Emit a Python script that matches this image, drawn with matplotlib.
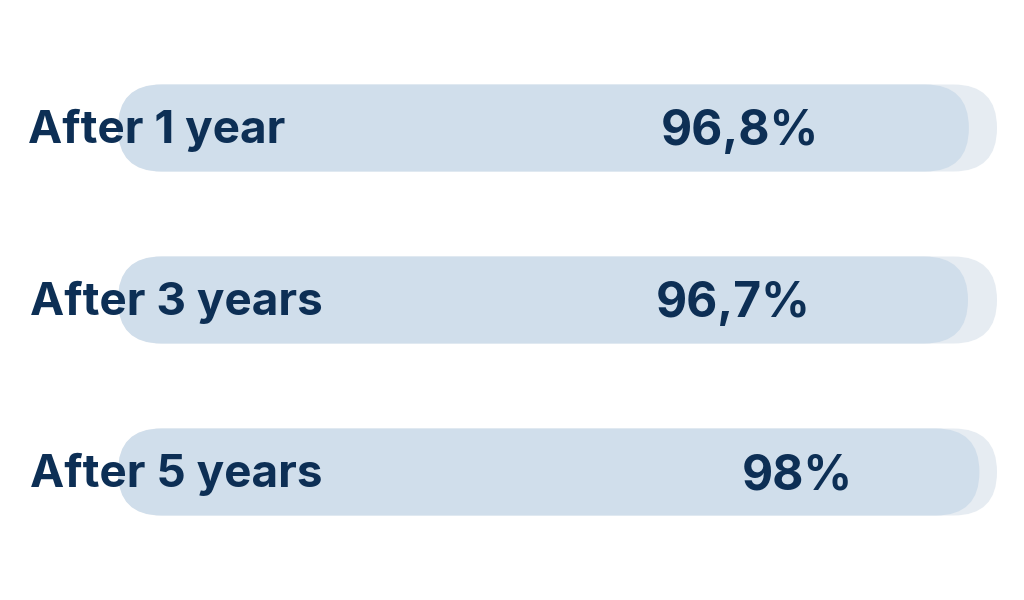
import matplotlib
matplotlib.use("Agg")
import matplotlib.pyplot as plt
from matplotlib.patches import FancyBboxPatch

categories = ["After 1 year", "After 3 years", "After 5 years"]
values = [96.8, 96.7, 98.0]
value_labels = ["96,8%", "96,7%", "98%"]
full_value = 100.0

# layout (pixels in a 1024x600 canvas)
W, H = 1024, 600
x0_px, x100_px = 118, 997
px_per_unit = (x100_px - x0_px) / 100.0
row_px = 172
first_center_px = 128
bar_h_px = 87
label_x_px = [28, 30, 30]
value_cx_px = [740, 733, 797]

fg = "#d0deeb"
bg = "#e6ecf2"
txt = "#0d2f55"
font = "Inter"

fig = plt.figure(figsize=(W / 100, H / 100), dpi=100)
ax = fig.add_axes([0, 0, 1, 1])
ax.set_xlim(-x0_px / px_per_unit, (W - x0_px) / px_per_unit)
ax.set_ylim((H - first_center_px) / row_px, -first_center_px / row_px)
ax.axis("off")

bar_h = bar_h_px / row_px
r = (bar_h_px / 2) / px_per_unit
asp = px_per_unit / row_px

for i, (cat, v, lab) in enumerate(zip(categories, values, value_labels)):
    for width, col, z in [(full_value, bg, 1), (v, fg, 2)]:
        p = FancyBboxPatch((0, i - bar_h / 2), width, bar_h,
                           boxstyle=f"round,pad=0,rounding_size={r}",
                           mutation_aspect=asp, fc=col, ec="none", zorder=z)
        ax.add_patch(p)
    ax.text((label_x_px[i] - x0_px) / px_per_unit, i + 15 / row_px, cat,
            ha="left", va="baseline", fontsize=33, fontweight="bold",
            family=font, color=txt, zorder=3)
    ax.text((value_cx_px[i] - x0_px) / px_per_unit, i + 17 / row_px, lab,
            ha="center", va="baseline", fontsize=34.5, fontweight="bold",
            family=font, color=txt, zorder=3)

fig.savefig("out.png", dpi=100, facecolor="white")
